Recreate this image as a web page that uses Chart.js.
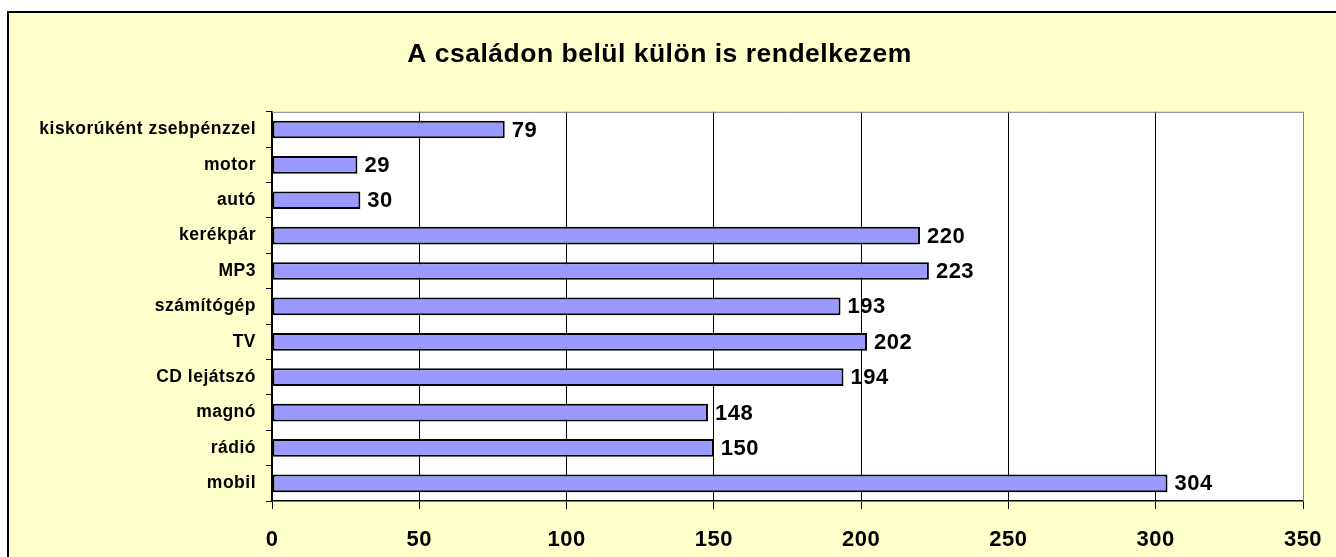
<!DOCTYPE html>
<html>
<head>
<meta charset="utf-8">
<script src="https://cdn.jsdelivr.net/npm/chart.js@4.4.0/dist/chart.umd.min.js"></script>
<style>
    html, body { margin: 0; padding: 0; background: #ffffff; overflow: hidden; }
    #frame {
        position: absolute; left: 7px; top: 11px;
        width: 1400px; height: 600px;
        background: #FFFFCC; border: 2px solid #000000;
    }
    #wrap { position: absolute; left: 0; top: 0; width: 1336px; height: 557px; }
</style>
</head>
<body>
<div id="frame"></div>
<div id="wrap"><canvas id="chart"></canvas></div>
<script>
// Chart data, top to bottom as shown
const titleText = 'A családon belül külön is rendelkezem';
const categories = ['kiskorúként zsebpénzzel', 'motor', 'autó', 'kerékpár', 'MP3',
    'számítógép', 'TV', 'CD lejátszó', 'magnó', 'rádió', 'mobil'];
const values = [79, 29, 30, 220, 223, 193, 202, 194, 148, 150, 304];
const xTicks = [0, 50, 100, 150, 200, 250, 300, 350];

const fontFamily = '"Liberation Sans", Arial, sans-serif';

// White plot area plus gray top/right frame
const plotFrame = {
    id: 'plotFrame',
    beforeDraw(chart) {
        const { ctx, chartArea: a } = chart;
        ctx.letterSpacing = '0.5px';
        ctx.save();
        ctx.fillStyle = '#ffffff';
        ctx.fillRect(a.left, a.top, a.right - a.left, a.bottom - a.top);
        ctx.restore();
    },
    afterDraw(chart) {
        const { ctx, chartArea: a } = chart;
        ctx.save();
        ctx.strokeStyle = '#808080';
        ctx.lineWidth = 1;
        ctx.beginPath();
        ctx.moveTo(a.left, a.top + 0.5);
        ctx.lineTo(a.right + 0.5, a.top + 0.5);
        ctx.lineTo(a.right + 0.5, a.bottom);
        ctx.stroke();
        ctx.restore();
    }
};

// Value labels at the end of each bar
const barLabels = {
    id: 'barLabels',
    afterDatasetsDraw(chart) {
        const { ctx } = chart;
        const meta = chart.getDatasetMeta(0);
        ctx.save();
        ctx.font = 'bold 22px ' + fontFamily;
        ctx.fillStyle = '#000000';
        ctx.textAlign = 'left';
        ctx.textBaseline = 'middle';
        meta.data.forEach((bar, i) => {
            ctx.fillText(String(values[i]), bar.x + 7, bar.y + 1);
        });
        ctx.restore();
    }
};

new Chart(document.getElementById('chart'), {
    type: 'bar',
    data: {
        labels: categories,
        datasets: [{
            data: values,
            backgroundColor: '#9999FF',
            borderColor: '#000000',
            borderWidth: 2,
            borderSkipped: false,
            barPercentage: 0.5,
            categoryPercentage: 1
        }]
    },
    options: {
        indexAxis: 'y',
        responsive: true,
        maintainAspectRatio: false,
        animation: false,
        layout: { padding: { left: 16, right: 33, top: 0, bottom: 0 } },
        scales: {
            x: {
                min: 0,
                max: 350,
                afterBuildTicks: scale => {
                    scale.ticks = xTicks.map(v => ({ value: v }));
                },
                afterFit: scale => {
                    scale.height = 56;
                    scale.paddingLeft = 0;
                    scale.paddingRight = 0;
                },
                grid: {
                    color: ctx => (ctx.tick && ctx.tick.value === 350) ? '#808080' : '#000000',
                    lineWidth: 1,
                    tickLength: 8,
                    tickColor: '#000000'
                },
                border: { color: '#000000', width: 1.5 },
                ticks: {
                    color: '#000000',
                    padding: 18,
                    maxRotation: 0,
                    font: { family: fontFamily, size: 22, weight: 'bold' }
                }
            },
            y: {
                afterFit: scale => { scale.width = 256; },
                grid: {
                    offset: true,
                    drawOnChartArea: false,
                    tickLength: 6,
                    tickColor: '#000000'
                },
                border: { color: '#000000', width: 1.5 },
                ticks: {
                    color: '#000000',
                    padding: 10,
                    font: { family: fontFamily, size: 17.5, weight: 'bold' }
                }
            }
        },
        plugins: {
            legend: { display: false },
            tooltip: { enabled: false },
            title: {
                display: true,
                text: titleText,
                color: '#000000',
                font: { family: fontFamily, size: 26.5, weight: 'bold', lineHeight: 1.2 },
                padding: { top: 39, bottom: 41 }
            }
        }
    },
    plugins: [plotFrame, barLabels]
});
</script>
</body>
</html>
